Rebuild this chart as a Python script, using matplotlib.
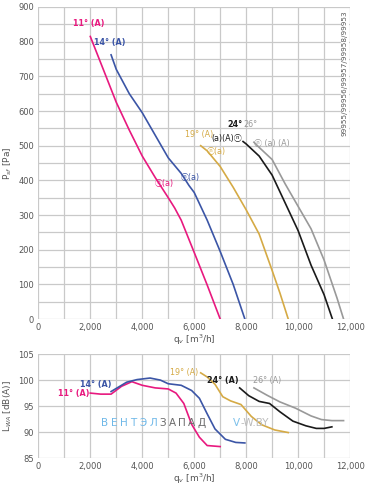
import matplotlib
matplotlib.use('Agg')
import matplotlib.pyplot as plt
from matplotlib.ticker import MultipleLocator, FuncFormatter

# Pressure curves (q_v in m3/h, P_sf in Pa)
q11 = [2000, 2500, 3000, 3500, 4000, 4500, 5000, 5250, 5500, 6000, 6500, 7000]
p11 = [815, 720, 625, 545, 470, 408, 350, 320, 285, 192, 98, 0]
q14 = [2800, 3000, 3500, 4000, 4500, 5000, 5500, 5800, 6000, 6500, 7000, 7500, 7950]
p14 = [762, 720, 650, 595, 530, 465, 420, 385, 365, 285, 195, 100, 0]
q19 = [6250, 6500, 7000, 7500, 8000, 8500, 9000, 9300, 9620]
p19 = [500, 485, 440, 380, 315, 245, 140, 75, 0]
q24 = [7880, 8000, 8500, 9000, 9500, 10000, 10500, 11000, 11320]
p24 = [512, 505, 470, 415, 335, 255, 155, 70, 0]
q26 = [8300, 8500, 9000, 9500, 10000, 10500, 11000, 11500, 11750]
p26 = [510, 495, 460, 390, 325, 260, 170, 60, 0]

# Sound power curves (L_WA in dB(A))
lq11 = [2000, 2400, 2800, 3200, 3600, 4000, 4500, 5000, 5300, 5600, 5900, 6200, 6500, 7000]
l11 = [97.5, 97.3, 97.3, 98.8, 99.7, 99.0, 98.5, 98.3, 97.5, 95.5, 91.5, 89.0, 87.4, 87.2]
lq14 = [2800, 3000, 3400, 3800, 4300, 4700, 5000, 5500, 5900, 6200, 6500, 6800, 7200, 7600, 7950]
l14 = [97.8, 98.4, 99.6, 100.1, 100.4, 100.0, 99.3, 99.0, 98.0, 96.5, 93.5, 90.6, 88.6, 88.0, 87.9]
lq19 = [6250, 6500, 6800, 7100, 7400, 7800, 8200, 8600, 9100, 9620]
l19 = [101.4, 100.6, 99.2, 96.8, 96.0, 95.3, 93.0, 91.4, 90.4, 89.9]
lq24 = [7750, 8100, 8500, 8900, 9300, 9800, 10300, 10700, 11000, 11300]
l24 = [98.5, 97.0, 95.9, 95.5, 93.9, 92.1, 91.2, 90.7, 90.7, 91.0]
lq26 = [8300, 8800, 9300, 9900, 10500, 10900, 11300, 11750]
l26 = [98.5, 97.1, 95.8, 94.6, 93.1, 92.4, 92.2, 92.2]

c11, c14, c19, c24, c26 = '#e8197f', '#3b55a6', '#d5aa45', '#1a1a1a', '#999999'
grid_c = '#c9c9c9'
tick_c = '#555555'
fam = ['DejaVu Sans', 'Noto Sans CJK JP']
plt.rcParams['font.family'] = fam

fig = plt.figure(figsize=(3.76, 4.86), dpi=100)
ax1 = fig.add_axes([0.102, 0.3436, 0.829, 0.642])
ax2 = fig.add_axes([0.102, 0.0576, 0.829, 0.2137])


def style(ax, ylo, yhi, ymaj, ymin):
    ax.set_xlim(0, 12000)
    ax.set_ylim(ylo, yhi)
    ax.xaxis.set_major_locator(MultipleLocator(2000))
    ax.xaxis.set_minor_locator(MultipleLocator(1000))
    ax.yaxis.set_major_locator(MultipleLocator(ymaj))
    ax.yaxis.set_minor_locator(MultipleLocator(ymin))
    ax.xaxis.set_major_formatter(FuncFormatter(lambda x, p: f'{x:,.0f}'))
    ax.grid(True, which='both', color=grid_c, linewidth=0.9)
    ax.set_axisbelow(True)
    for s in ax.spines.values():
        s.set_visible(False)
    ax.tick_params(which='both', length=0, labelsize=6, colors=tick_c, pad=3)
    ax.set_xlabel('q$_v$ [m$^3$/h]', fontsize=6.5, color=tick_c, labelpad=0)


style(ax1, 0, 900, 100, 50)
style(ax2, 85, 105, 5, 5)
ax1.set_ylabel('P$_{sf}$ [Pa]', fontsize=6.5, color=tick_c, labelpad=3)
ax2.set_ylabel('L$_{WA}$ [dB(A)]', fontsize=6.5, color=tick_c, labelpad=3)

lw = 1.2
for q, p, c in [(q11, p11, c11), (q14, p14, c14), (q19, p19, c19),
                (q24, p24, c24), (q26, p26, c26)]:
    ax1.plot(q, p, color=c, linewidth=lw)
for q, l, c in [(lq11, l11, c11), (lq14, l14, c14), (lq19, l19, c19),
                (lq24, l24, c24), (lq26, l26, c26)]:
    ax2.plot(q, l, color=c, linewidth=lw)

fs = 5.8
# top chart labels
ax1.text(1950, 840, '11° (A)', color=c11, fontsize=fs, ha='center', va='bottom', fontweight='bold')
ax1.text(2750, 785, '14° (A)', color=c14, fontsize=fs, ha='center', va='bottom', fontweight='bold')
ax1.text(6200, 518, '19° (A)', color=c19, fontsize=fs, ha='center', va='bottom')
ax1.text(7850, 548, '24°', color=c24, fontsize=fs, ha='right', va='bottom', fontweight='bold')
ax1.text(8450, 548, '26°', color=c26, fontsize=fs, ha='right', va='bottom')
ax1.text(7860, 520, '(a)(A)ⓝ', color=c24, fontsize=fs, ha='right', va='center')
ax1.text(8300, 505, 'ⓝ (a) (A)', color=c26, fontsize=fs, ha='left', va='center')
ax1.text(6500, 482, 'ⓝ(a)', color=c19, fontsize=fs, ha='left', va='center')
ax1.text(5500, 408, 'ⓝ(a)', color=c14, fontsize=fs, ha='left', va='center')
ax1.text(4500, 392, 'ⓝ(a)', color=c11, fontsize=fs, ha='left', va='center')
ax1.text(0.983, 0.99, '99955/99956/99957/99958/99953', transform=ax1.transAxes,
         rotation=90, fontsize=5.2, color=tick_c, ha='center', va='top',
         bbox=dict(facecolor='white', edgecolor='none', pad=0.8))

# bottom chart labels
ax2.text(1950, 97.5, '11° (A)', color=c11, fontsize=fs, ha='right', va='center', fontweight='bold')
ax2.text(2800, 98.2, '14° (A)', color=c14, fontsize=fs, ha='right', va='bottom', fontweight='bold')
ax2.text(6150, 101.5, '19° (A)', color=c19, fontsize=fs, ha='right', va='center')
ax2.text(7700, 99.0, '24° (A)', color=c24, fontsize=fs, ha='right', va='bottom', fontweight='bold')
ax2.text(8250, 99.0, '26° (A)', color=c26, fontsize=fs, ha='left', va='bottom')

# watermark
for i, ch in enumerate('ВЕНТЭЛЗАПАД'):
    ax2.text(2550 + i * 373, 91.7, ch, color='#6fb8e8' if i < 6 else '#6a6a6a',
             fontsize=7.5, ha='center', va='center', fontweight='medium')
ax2.text(7500, 91.7, 'V', color='#7cc0ea', fontsize=7.5, ha='left', va='center')
ax2.text(7780, 91.7, '-W.BY', color='#bbbbbb', fontsize=7.5, ha='left', va='center')

fig.savefig('out.png', dpi=100)
